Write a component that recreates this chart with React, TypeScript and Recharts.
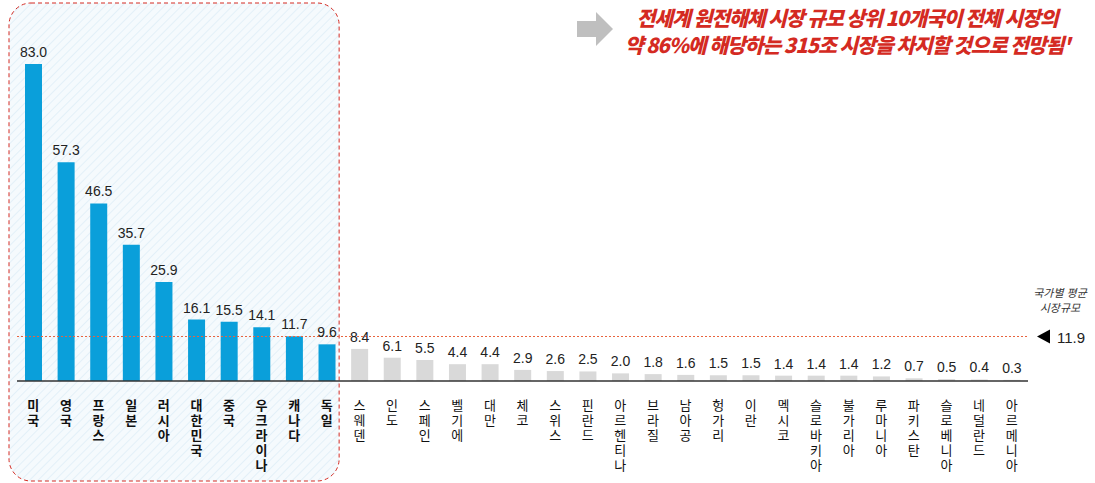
import React from 'react'
import { BarChart, Bar, XAxis, YAxis, Cell, LabelList, ReferenceLine, ReferenceArea } from 'recharts'

// 국가별 원전해체 시장 규모 (조 원)
const countries = [
    '미국', '영국', '프랑스', '일본', '러시아', '대한민국', '중국', '우크라이나', '캐나다', '독일',
    '스웨덴', '인도', '스페인', '벨기에', '대만', '체코', '스위스', '핀란드', '아르헨티나', '브라질',
    '남아공', '헝가리', '이란', '멕시코', '슬로바키아', '불가리아', '루마니아', '파키스탄', '슬로베니아', '네덜란드', '아르메니아',
]
const marketSize = [
    83.0, 57.3, 46.5, 35.7, 25.9, 16.1, 15.5, 14.1, 11.7, 9.6,
    8.4, 6.1, 5.5, 4.4, 4.4, 2.9, 2.6, 2.5, 2.0, 1.8,
    1.6, 1.5, 1.5, 1.4, 1.4, 1.4, 1.2, 0.7, 0.5, 0.4, 0.3,
]
const TOP_N = 10
const AVERAGE = 11.9

const BLUE = '#0A9FDA'
const GRAY = '#D9D9D9'
const RED = '#D42A22'
const FONT = "'Liberation Sans', 'Noto Sans CJK KR', sans-serif"

const data = countries.map((name, i) => ({ name, value: marketSize[i] }))

const VerticalTick = (props: any) => {
    const { x, y, payload, index } = props
    const chars: string[] = Array.from(payload.value as string)
    return (
        <text
            x={x}
            y={y + 21}
            textAnchor="middle"
            fontSize={13}
            fontFamily={FONT}
            fontWeight={index < TOP_N ? 700 : 400}
            fill="#111"
        >
            {chars.map((c, i) => (
                <tspan key={i} x={x} dy={i === 0 ? 0 : 15}>{c}</tspan>
            ))}
        </text>
    )
}

// dashed rounded frame around the top group, a little wider than its bands
const TopBox = (props: any) => {
    const { x, width } = props
    return (
        <rect
            x={x - 8}
            y={3}
            width={width + 4}
            height={478}
            rx={22}
            fill="url(#hatch)"
            stroke={RED}
            strokeWidth={1}
            strokeDasharray="4 3"
        />
    )
}

const AverageLine = (props: any) => {
    const { x1, x2 } = props
    const y = Math.round(props.y1) + 0.5
    return (
        <g>
            <line x1={x1} y1={y} x2={x2} y2={y} stroke="#E8643F" strokeWidth={1} strokeDasharray="2 2" />
            <path d={`M${x2 + 9},${y} L${x2 + 22},${y - 7} L${x2 + 22},${y + 7} Z`} fill="#000" />
            <text x={x2 + 29} y={y + 6} fontSize={15} fontFamily={FONT} fill="#222">
                {AVERAGE.toFixed(1)}
            </text>
        </g>
    )
}

export default function App() {
    return (
        <div style={{ position: 'absolute', left: 0, top: 0, width: 1095, height: 483, background: '#fff', fontFamily: FONT }}>
            <BarChart
                width={1095}
                height={483}
                data={data}
                margin={{ top: 64, right: 67, left: 17, bottom: 12 }}
                barCategoryGap={0}
            >
                <defs>
                    <pattern id="hatch" width="6" height="6" patternUnits="userSpaceOnUse" patternTransform="rotate(45)">
                        <rect width="6" height="6" fill="#F5FAFD" />
                        <line x1="0" y1="0" x2="0" y2="6" stroke="#E3F0F8" strokeWidth="2" />
                    </pattern>
                </defs>
                <ReferenceArea x1={countries[0]} x2={countries[TOP_N - 1]} ifOverflow="visible" shape={TopBox} />
                <ReferenceLine y={AVERAGE} ifOverflow="visible" shape={AverageLine} />
                <XAxis
                    dataKey="name"
                    interval={0}
                    tickLine={false}
                    axisLine={{ stroke: '#333', strokeWidth: 1.5 }}
                    height={90}
                    tick={VerticalTick}
                />
                <YAxis hide domain={[0, 83]} />
                <Bar dataKey="value" barSize={17} isAnimationActive={false}>
                    {data.map((d, i) => (
                        <Cell key={d.name} fill={i < TOP_N ? BLUE : GRAY} />
                    ))}
                    <LabelList
                        dataKey="value"
                        position="top"
                        offset={7}
                        fontSize={14}
                        fontFamily={FONT}
                        fill="#222"
                        formatter={(v: any) => Number(v).toFixed(1)}
                    />
                </Bar>
            </BarChart>

            <div style={{
                position: 'absolute', left: 1018, top: 286, width: 84, textAlign: 'center',
                fontSize: 11, lineHeight: '15px', fontStyle: 'italic', color: '#333',
            }}>
                국가별 평균<br />시장규모
            </div>

            <svg style={{ position: 'absolute', left: 577, top: 12 }} width={38} height={34}>
                <path d="M0,9 L19,9 L19,0 L36,17 L19,34 L19,25 L0,25 Z" fill="#BFBFBF" />
            </svg>

            <div style={{
                position: 'absolute', left: 597, top: 4, width: 500, textAlign: 'center',
                fontSize: 20.5, lineHeight: '27px', fontWeight: 900, fontStyle: 'italic', color: RED,
                fontFamily: "'Noto Sans CJK KR', sans-serif", letterSpacing: -1.1, whiteSpace: 'nowrap',
            }}>
                전세계 원전해체 시장 규모 상위 10개국이 전체 시장의<br />
                약 86%에 해당하는 315조 시장을 차지할 것으로 전망됨'
            </div>
        </div>
    )
}
